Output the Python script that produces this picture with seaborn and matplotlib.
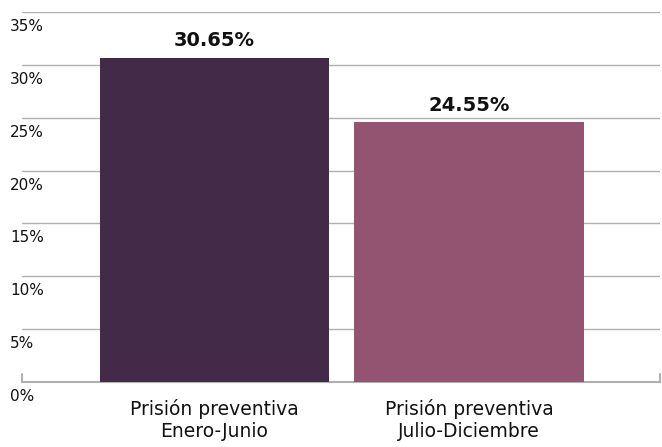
import matplotlib
matplotlib.use("Agg")
import matplotlib.pyplot as plt
import matplotlib.transforms as mtransforms
import pandas as pd
import seaborn as sns

categories = ["Prisión preventiva\nEnero-Junio", "Prisión preventiva\nJulio-Diciembre"]
values = [30.65, 24.55]
colors = ["#432a48", "#925470"]
yticks = [0, 5, 10, 15, 20, 25, 30, 35]

df = pd.DataFrame({"Periodo": categories, "Porcentaje": values})

sns.set_style("white")
plt.rcParams["font.family"] = ["DejaVu Sans"]

fig = plt.figure(figsize=(6.62, 4.47), dpi=100)
ax = fig.add_axes([22 / 662, 65 / 447, 638 / 662, 370 / 447])

sns.barplot(data=df, x="Periodo", y="Porcentaje", hue="Periodo",
            palette=colors, width=0.9, saturation=1, legend=False, ax=ax,
            linewidth=0, zorder=3)

ax.set_xlim(-0.756, 1.75)
ax.set_ylim(0, 35)
ax.set_yticks(yticks)
ax.set_yticklabels([f"{t}%" for t in yticks])
ax.yaxis.grid(True, color="#b0b0b0", linewidth=1.0, zorder=0)
ax.set_axisbelow(True)
ax.set_xlabel("")
ax.set_ylabel("")

for s in ["top", "left", "right"]:
    ax.spines[s].set_visible(False)
ax.spines["bottom"].set_color("#b0b0b0")
ax.spines["bottom"].set_linewidth(1.5)

# small end ticks on baseline
for xe in ax.get_xlim():
    ax.axvline(xe, ymin=0, ymax=8 / 370, color="#b0b0b0", linewidth=1.5, clip_on=False)

ax.tick_params(axis="y", length=0, pad=0, labelsize=11, colors="#111111")
ax.tick_params(axis="x", length=0, pad=12, labelsize=13.5, colors="#111111")

offset = mtransforms.ScaledTranslation(-0.12, -0.145, fig.dpi_scale_trans)
for lab in ax.get_yticklabels():
    lab.set_horizontalalignment("left")
    lab.set_verticalalignment("center")
    lab.set_transform(lab.get_transform() + offset)

for lab in ax.get_xticklabels():
    lab.set_linespacing(1.25)

for i, v in enumerate(values):
    ax.annotate(f"{v:.2f}%", (i, v), xytext=(0, 8.5), textcoords="offset points",
                ha="center", va="baseline", fontsize=14, fontweight="bold", color="#111111")

fig.savefig("out.png", dpi=100)
